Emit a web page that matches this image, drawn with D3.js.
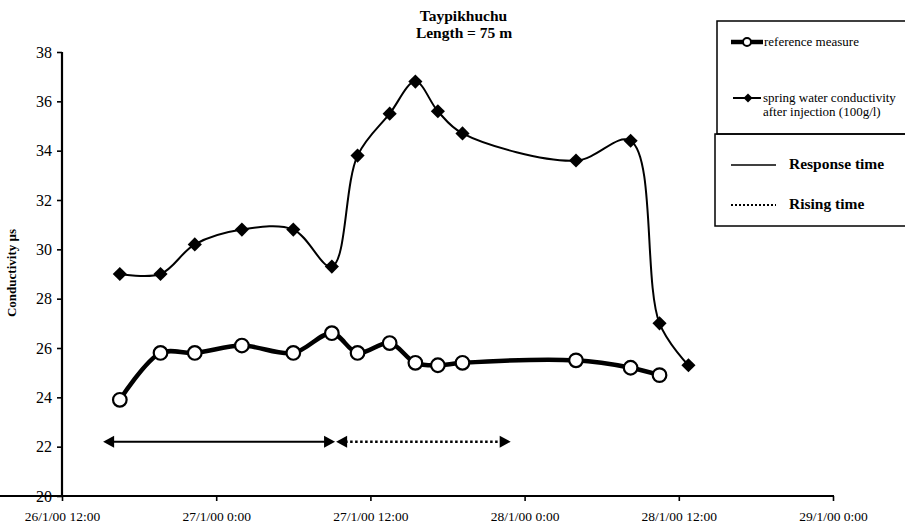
<!DOCTYPE html>
<html><head><meta charset="utf-8">
<script src="https://cdn.jsdelivr.net/npm/d3@7"></script>
<style>body{margin:0;background:#fff}svg{display:block}svg text{font-family:"Liberation Serif","Times New Roman",serif !important;fill:#000}</style>
</head><body><svg id="c" width="905" height="525"></svg>
<script>
const times = ["2000-01-26T16:30","2000-01-26T19:40","2000-01-26T22:20","2000-01-27T02:00","2000-01-27T06:00","2000-01-27T09:00","2000-01-27T11:00","2000-01-27T13:30","2000-01-27T15:30","2000-01-27T17:15","2000-01-27T19:10","2000-01-28T04:00","2000-01-28T08:15","2000-01-28T10:30","2000-01-28T12:45"];
const referenceMeasure = [23.9,25.8,25.8,26.1,25.8,26.6,25.8,26.2,25.4,25.3,25.4,25.5,25.2,24.9];
const springConductivity = [29.0,29.0,30.2,30.8,30.8,29.3,33.8,35.5,36.8,35.6,34.7,33.6,34.4,27.0,25.3];
const responseTime = ["2000-01-26T15:12","2000-01-27T09:15"];
const risingTime = ["2000-01-27T09:20","2000-01-27T22:55"];
const arrowLevel = 22.2;
const yTicks = [20,22,24,26,28,30,32,34,36,38];
const xDomain = ["2000-01-26T12:00","2000-01-29T00:00"];
const title = ["Taypikhuchu","Length = 75 m"];
const yLabel = "Conductivity µs";

const parse = s => new Date(s);
const svg = d3.select("#c");
const x = d3.scaleTime().domain(xDomain.map(parse)).range([62,833]);
const y = d3.scaleLinear().domain([20,38]).range([496,52]);

const fmt = d3.timeFormat("%-d/%-m/%y %-H:%M");
const xa = svg.append("g").attr("transform","translate(0,496)")
  .call(d3.axisBottom(x).ticks(d3.timeHour.every(12)).tickFormat(fmt).tickSizeInner(5).tickSizeOuter(0).tickPadding(10));
const ya = svg.append("g").attr("transform","translate(62,0)")
  .call(d3.axisLeft(y).tickValues(yTicks).tickSizeInner(5).tickSizeOuter(0).tickPadding(5));
[xa,ya].forEach(a=>{a.attr("font-family",null);
  a.select(".domain").attr("stroke","#000").attr("stroke-width",2.2);
  a.selectAll(".tick line").attr("stroke","#000").attr("stroke-width",1.6);});
xa.selectAll("text").attr("font-size",13.5);
ya.selectAll("text").attr("font-size",16);
ya.select(".domain").attr("d","M0,52V497");
xa.select(".domain").attr("d","M-1,0H834");

svg.append("text").attr("x",463.5).attr("y",20.5).attr("text-anchor","middle").attr("font-weight","bold").attr("font-size",15.5).text(title[0]);
svg.append("text").attr("x",464).attr("y",37.5).attr("text-anchor","middle").attr("font-weight","bold").attr("font-size",15.5).text(title[1]);
svg.append("text").attr("transform","translate(16,273) rotate(-90)").attr("text-anchor","middle").attr("font-weight","bold").attr("font-size",13).text(yLabel);

const curve = d3.curveCatmullRom.alpha(0.5);
const dSpring = springConductivity.map((v,i)=>({t:parse(times[i]),v}));
const dRef = referenceMeasure.map((v,i)=>({t:parse(times[i]),v}));
const line = d3.line().x(d=>x(d.t)).y(d=>y(d.v)).curve(curve);
svg.append("path").attr("d",line(dSpring)).attr("fill","none").attr("stroke","#000").attr("stroke-width",2);
svg.append("path").attr("d",line(dRef)).attr("fill","none").attr("stroke","#000").attr("stroke-width",4.5);
const diamond = d3.symbol().type(d3.symbolSquare).size(100);
svg.selectAll(".dm").data(dSpring).enter().append("path")
  .attr("transform",d=>`translate(${x(d.t)},${y(d.v)}) rotate(45)`).attr("d",diamond()).attr("fill","#000");
svg.selectAll(".ci").data(dRef).enter().append("circle")
  .attr("cx",d=>x(d.t)).attr("cy",d=>y(d.v)).attr("r",6.8).attr("fill","#fff").attr("stroke","#000").attr("stroke-width",2.2);

function tri(px,py,dir){
  const L=11,H=6;
  svg.append("path").attr("d",`M${px},${py}L${px-dir*L},${py-H}L${px-dir*L},${py+H}Z`).attr("fill","#000");
}
const ay = y(arrowLevel);
const r0=x(parse(responseTime[0])), r1=x(parse(responseTime[1]));
svg.append("line").attr("x1",r0+8).attr("x2",r1-8).attr("y1",ay).attr("y2",ay).attr("stroke","#000").attr("stroke-width",2);
tri(r0,ay,-1); tri(r1,ay,1);
const s0=x(parse(risingTime[0])), s1=x(parse(risingTime[1]));
svg.append("line").attr("x1",s0+9).attr("x2",s1-9).attr("y1",ay).attr("y2",ay).attr("stroke","#000").attr("stroke-width",2.5).attr("stroke-dasharray","2.5,2.5");
tri(s0,ay,-1); tri(s1,ay,1);

svg.append("rect").attr("x",717).attr("y",21).attr("width",200).attr("height",113).attr("fill","none").attr("stroke","#000").attr("stroke-width",1.5);
svg.append("rect").attr("x",715).attr("y",134).attr("width",200).attr("height",92).attr("fill","none").attr("stroke","#000").attr("stroke-width",1.5);
svg.append("line").attr("x1",731).attr("x2",763).attr("y1",42).attr("y2",42).attr("stroke","#000").attr("stroke-width",4.5);
svg.append("circle").attr("cx",747).attr("cy",42).attr("r",4).attr("fill","#fff").attr("stroke","#000").attr("stroke-width",2);
svg.append("text").attr("x",764).attr("y",46).attr("font-size",13).text("reference measure");
svg.append("line").attr("x1",733).attr("x2",761).attr("y1",98).attr("y2",98).attr("stroke","#000").attr("stroke-width",2);
svg.append("path").attr("transform","translate(748,98) rotate(45)").attr("d",d3.symbol().type(d3.symbolSquare).size(40)()).attr("fill","#000");
svg.append("text").attr("x",763).attr("y",102).attr("font-size",13).text("spring water conductivity");
svg.append("text").attr("x",763).attr("y",116).attr("font-size",13).text("after injection (100g/l)");
svg.append("line").attr("x1",731).attr("x2",776).attr("y1",165).attr("y2",165).attr("stroke","#000").attr("stroke-width",1.3);
svg.append("text").attr("x",789).attr("y",169).attr("font-size",15.5).attr("font-weight","bold").text("Response time");
svg.append("line").attr("x1",731).attr("x2",776).attr("y1",205).attr("y2",205).attr("stroke","#000").attr("stroke-width",2).attr("stroke-dasharray","2,2");
svg.append("text").attr("x",789).attr("y",209).attr("font-size",15.5).attr("font-weight","bold").text("Rising time");
</script></body></html>
